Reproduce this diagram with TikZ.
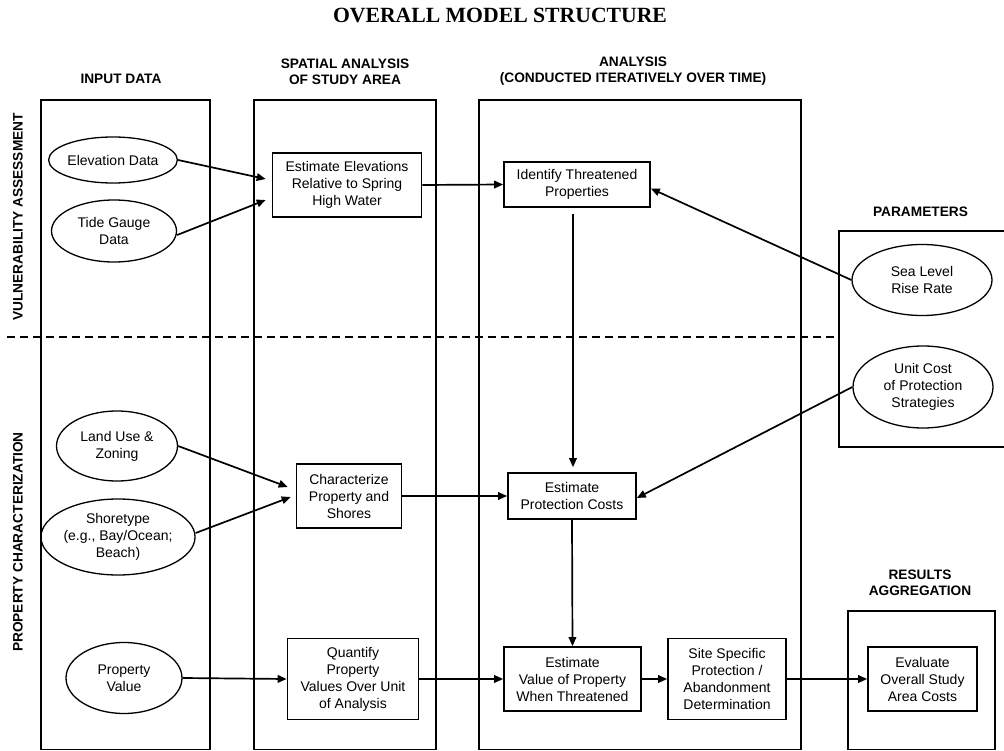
\documentclass[tikz,border=0pt]{standalone}
\usepackage{fontspec}
\setmainfont{Liberation Sans}
\newfontfamily\titlefont{Liberation Serif}
\usetikzlibrary{shapes.geometric,arrows.meta}
\begin{document}
\begin{tikzpicture}[x=1pt,y=-1pt,
  every node/.style={font=\fontsize{14}{17}\selectfont, align=center},
  oval/.style={draw, ellipse, line width=1.3pt, inner sep=0pt},
  pbox/.style={draw, rectangle, line width=1.6pt, inner sep=0pt},
  col/.style={draw, line width=1.5pt},
  hdr/.style={font=\fontsize{13.7}{16.5}\selectfont\bfseries},
  arr/.style={-{Triangle[length=9pt,width=7.5pt]}, line width=1.7pt},
]
\useasboundingbox (0,0) rectangle (1004,751);

% title
\node[font=\titlefont\fontsize{21.7}{24}\selectfont\bfseries] (title) at (500,15) {OVERALL MODEL STRUCTURE};

% column headers
\node[hdr] (hin) at (121,79) {INPUT DATA};
\node[hdr] (hsp) at (345,72) {SPATIAL ANALYSIS\\OF STUDY AREA};
\node[hdr] (han) at (633,71) {ANALYSIS\\(CONDUCTED ITERATIVELY OVER TIME)};
\node[hdr] (hpa) at (920.5,212) {PARAMETERS};
\node[hdr] (hre) at (920,583) {RESULTS\\AGGREGATION};

% row labels
\node[hdr, rotate=90] (rva) at (18,217) {VULNERABILITY ASSESSMENT};
\node[hdr, rotate=90] (rpc) at (18,542) {PROPERTY CHARACTERIZATION};

% column frames
\draw[col] (41,100) rectangle (210,749.5);
\draw[col] (254,100) rectangle (436,749.5);
\draw[col] (479,100) rectangle (801,749.5);
\draw[col] (1006,231) -- (839,231) -- (839,447) -- (1006,447);
\draw[col] (848,611) rectangle (995,749.5);

% dashed separator
\draw[line width=1.6pt, dash pattern=on 8pt off 5pt] (7,337) -- (839,337);

% input data
\node[oval, minimum width=126pt, minimum height=46pt] (elev) at (113,160) {Elevation Data};
\node[oval, minimum width=125pt, minimum height=62pt] (tide) at (114,231) {Tide Gauge\\Data};
\node[oval, minimum width=121pt, minimum height=70pt] (land) at (117,446) {Land Use \&\\Zoning};
\node[oval, minimum width=127pt, minimum height=76pt] (shore) at (118,537) {Shoretype\\(e.g., Bay/Ocean;\\Beach)};
\node[oval, minimum width=116pt, minimum height=71pt] (pval) at (124,678) {Property\\Value};

% spatial analysis
\node[pbox, minimum width=149pt, minimum height=64pt] (eelev) at (347,185) {Estimate Elevations\\Relative to Spring\\High Water};
\node[pbox, minimum width=105pt, minimum height=64pt] (charz) at (349,496) {Characterize\\Property and\\Shores};
\node[pbox, minimum width=131pt, minimum height=81pt] (quant) at (353,679) {Quantify\\Property\\Values Over Unit\\of Analysis};

% analysis
\node[pbox, minimum width=146pt, minimum height=45pt] (ident) at (577,184.5) {Identify Threatened\\Properties};
\node[pbox, minimum width=128pt, minimum height=46pt] (pcost) at (572,496) {Estimate\\Protection Costs};
\node[pbox, minimum width=137pt, minimum height=64pt] (evalp) at (572.5,679) {Estimate\\Value of Property\\When Threatened};
\node[pbox, minimum width=118pt, minimum height=81pt] (site) at (727,679) {Site Specific\\Protection /\\Abandonment\\Determination};

% parameters
\node[oval, minimum width=140pt, minimum height=71pt] (slr) at (922,280) {Sea Level\\Rise Rate};
\node[oval, minimum width=140pt, minimum height=82pt] (ucost) at (923,387) {Unit Cost\\of Protection\\Strategies};

% results
\node[pbox, minimum width=109pt, minimum height=64pt] (evalo) at (922.5,679) {Evaluate\\Overall Study\\Area Costs};

% connectors
\draw[arr] (elev.east) -- ([xshift=-6pt,yshift=6pt]eelev.west);
\draw[arr] ([yshift=-4pt]tide.east) -- ([xshift=-6pt,yshift=-15pt]eelev.west);
\draw[arr] (eelev.east) -- (ident.west);
\draw[arr] (slr.west) -- ([yshift=-4pt]ident.east);
\draw[arr] ([xshift=-4pt,yshift=-6pt]ident.south) -- ([xshift=1pt,yshift=5pt]pcost.north);
\draw[arr] (ucost.west) -- ([yshift=-2pt]pcost.east);
\draw[arr] (land.east) -- ([xshift=-8pt,yshift=9pt]charz.west);
\draw[arr] ([yshift=4pt]shore.east) -- ([xshift=-5pt,yshift=-1pt]charz.west);
\draw[arr] (charz.east) -- (pcost.west);
\draw[arr] (pcost.south) -- (evalp.north);
\draw[arr] (pval.east) -- (quant.west);
\draw[arr] (quant.east) -- (evalp.west);
\draw[arr] (evalp.east) -- (site.west);
\draw[arr] (site.east) -- (evalo.west);
\end{tikzpicture}
\end{document}
